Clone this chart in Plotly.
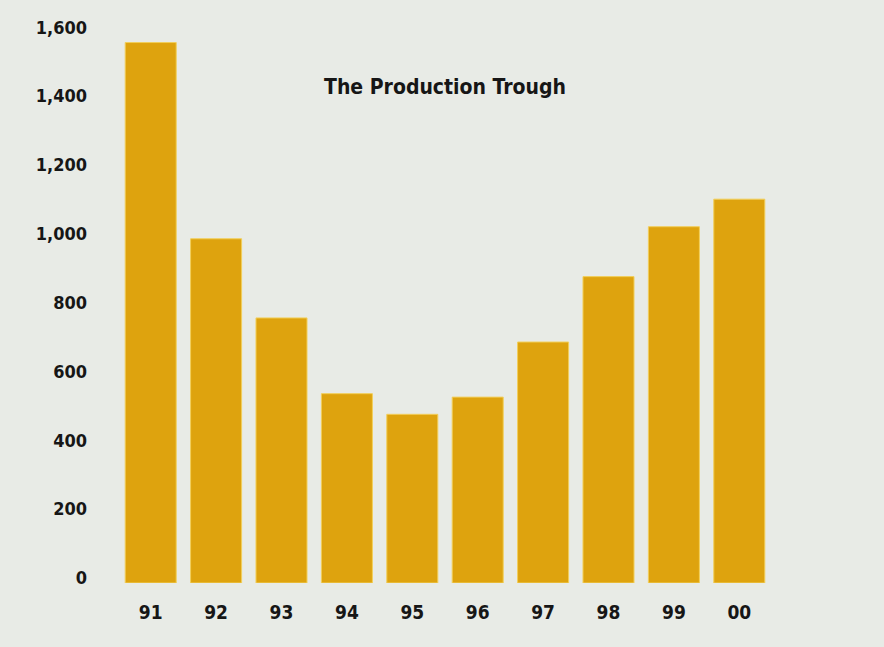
import plotly.graph_objects as go

# Production by year
years = ["91", "92", "93", "94", "95", "96", "97", "98", "99", "00"]
production = [1570, 1000, 770, 550, 490, 540, 700, 890, 1035, 1115]

y_ticks = [0, 200, 400, 600, 800, 1000, 1200, 1400, 1600]
y_tick_text = ["0", "200", "400", "600", "800", "1,000", "1,200", "1,400", "1,600"]

chart_title = "The Production Trough"

FONT = "Liberation Sans Narrow, DejaVu Sans Condensed, Arial Narrow, sans-serif"
BAR = "#dea30e"
BG = "#e8ebe6"
INK = "#161616"

fig = go.Figure(
    go.Bar(
        x=years,
        y=production,
        marker=dict(color=BAR, line=dict(color="#f2cf5a", width=1)),
        hoverinfo="x+y",
    )
)

fig.update_layout(
    width=884,
    height=647,
    margin=dict(l=118, r=112, t=15, b=64),
    paper_bgcolor=BG,
    plot_bgcolor=BG,
    bargap=0.22,
    showlegend=False,
    font=dict(family=FONT, color=INK),
    annotations=[
        dict(
            text="<b>" + chart_title + "</b>",
            xref="paper", yref="paper",
            x=0.5, y=0.873,
            xanchor="center", yanchor="middle",
            showarrow=False,
            font=dict(family=FONT, size=21, color=INK),
        )
    ],
)

fig.update_xaxes(
    type="category",
    range=[-0.5, 9.5],
    showgrid=False,
    zeroline=False,
    showline=False,
    ticks="",
    tickfont=dict(family=FONT, size=19, color=INK, weight="bold"),
    ticklabelstandoff=16,
)

fig.update_yaxes(
    range=[0, 1650],
    tickvals=y_ticks,
    ticktext=y_tick_text,
    showgrid=False,
    zeroline=False,
    showline=False,
    ticks="",
    tickfont=dict(family=FONT, size=18, color=INK, weight="bold"),
    ticklabelstandoff=30,
    ticklabelshift=-5,
)

fig.write_html("out.html")
